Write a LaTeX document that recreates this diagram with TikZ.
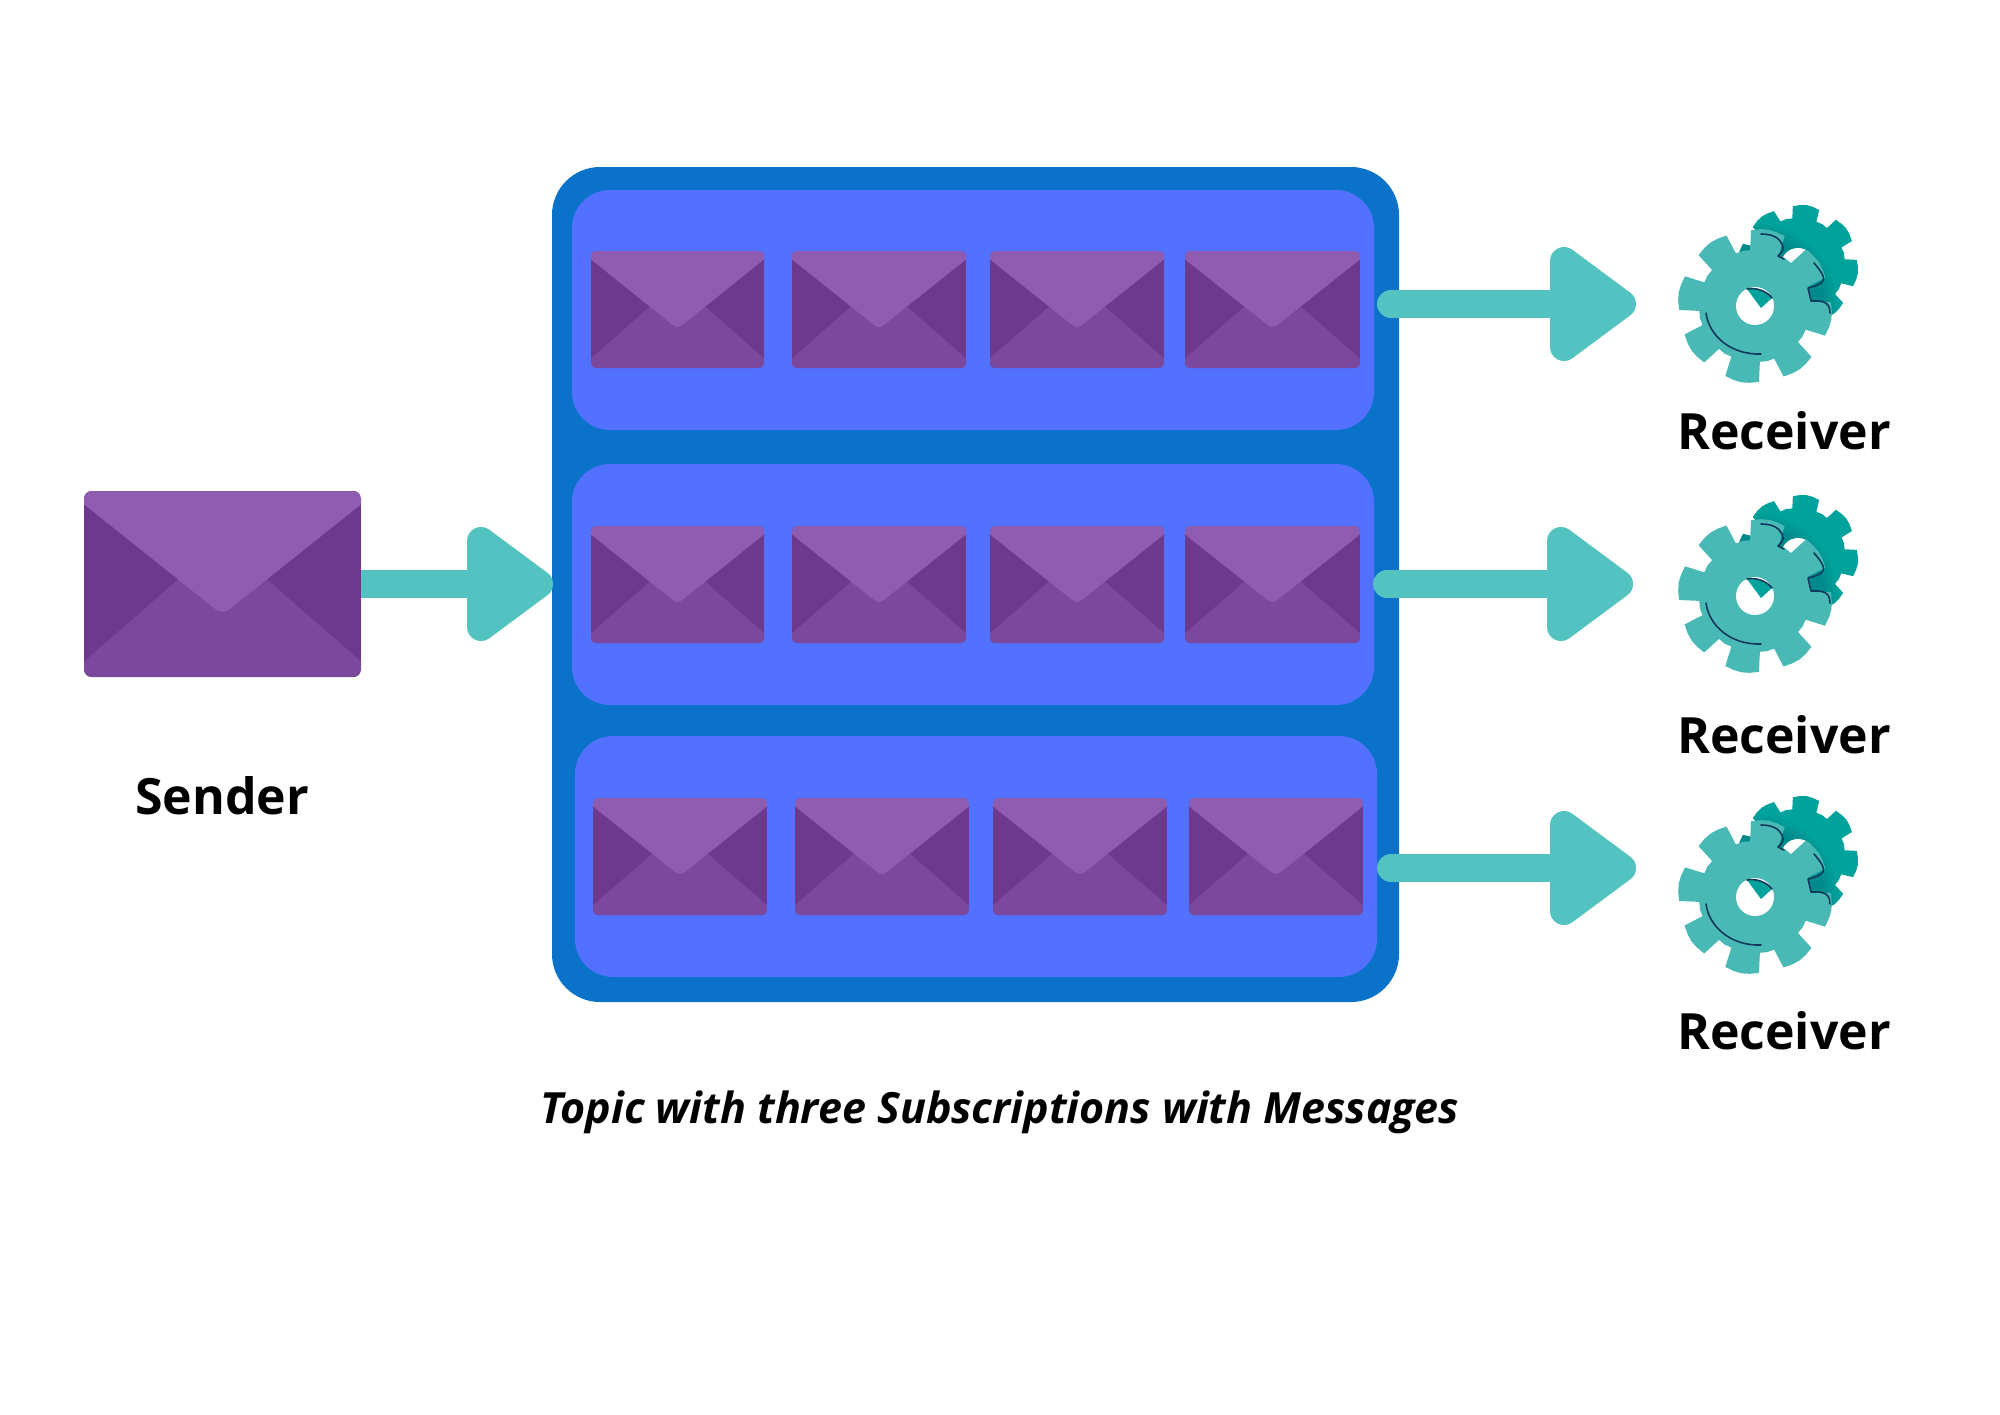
\documentclass[tikz,border=0pt]{standalone}
\usepackage{fontspec}
\setmainfont{Open Sans}
\definecolor{topicblue}{HTML}{0A72C9}
\definecolor{panelblue}{HTML}{5271FF}
\definecolor{flapA}{HTML}{8E5DB1}
\definecolor{sideA}{HTML}{6C3A8C}
\definecolor{baseA}{HTML}{7A499E}
\definecolor{arrowteal}{HTML}{52C3C0}
\definecolor{gearfront}{HTML}{48B9B4}
\definecolor{gearback}{HTML}{00A39B}
\definecolor{gearline}{HTML}{113A5C}
\newcommand{\envelope}[4]{% x y w h
  \begin{scope}[shift={(#1,#2)},x=#3pt,y=-#4pt]
    \begin{scope}
      \clip[rounded corners=#3*0.028pt] (0,0) rectangle (1,1);
      \fill[sideA] (0,0) rectangle (1,1);
      \fill[baseA] (-0.01,0.93) -- (0.34,0.475) -- (0.66,0.475) -- (1.01,0.93) -- (1.01,1.01) -- (-0.01,1.01) -- cycle;
      \fill[flapA] (-0.01,-0.01) -- (1.01,-0.01) -- (1.01,0.06) -- (0.53,0.63) .. controls (0.51,0.655) and (0.49,0.655) .. (0.47,0.63) -- (-0.01,0.06) -- cycle;
    \end{scope}
  \end{scope}}
\newcommand{\gearpath}[6]{% cx cy rbody rtip base-angle path-action
  \path[#6] ({#1+#3*cos(#5-15)},{#2-#3*sin(#5-15)})
  \foreach \k in {0,45,...,315} {
     \pgfextra{\pgfmathsetmacro{\a}{#5+\k}}
     -- ({#1+#3*cos(\a-15)},{#2-#3*sin(\a-15)})
     -- ({#1+#4*cos(\a-13)},{#2-#4*sin(\a-13)})
     -- ({#1+(#4+1)*cos(\a-6)},{#2-(#4+1)*sin(\a-6)})
     -- ({#1+(#4+1.5)*cos(\a)},{#2-(#4+1.5)*sin(\a)})
     -- ({#1+(#4+1)*cos(\a+6)},{#2-(#4+1)*sin(\a+6)})
     -- ({#1+#4*cos(\a+13)},{#2-#4*sin(\a+13)})
     -- ({#1+#3*cos(\a+15)},{#2-#3*sin(\a+15)})
     -- ({#1+#3*cos(\a+18)},{#2-#3*sin(\a+18)})
     -- ({#1+(#3+0.5)*cos(\a+22.5)},{#2-(#3+0.5)*sin(\a+22.5)})
     -- ({#1+#3*cos(\a+27)},{#2-#3*sin(\a+27)})
  } -- cycle;}
\newcommand{\gears}[2]{% cx cy of the front gear
  \gearpath{#1+43}{#2-41}{47}{59}{82}{fill=gearback}
  \begin{scope}
    \gearpath{#1+43}{#2-41}{47}{59}{82}{clip}
    \foreach \r in {70,74,78,82} {
      \fill[gearline,opacity=0.06] (#1,#2) circle (\r pt);
    }
  \end{scope}
  \fill[white] ({#1+43},{#2-41}) circle (17pt);
  \gearpath{#1}{#2}{56}{76}{35}{fill=gearfront}
  \fill[white] (#1,#2) circle (19pt);
  \begin{scope}[shift={(#1,#2)}]
    \fill[gearback] (-8,-17) .. controls (0,-19) and (12,-15) .. (17,-8) -- (6,2) -- cycle;
    \draw[gearstroke] (-8,-17) .. controls (0,-19) and (12,-15) .. (17,-8);
    \draw[gearstroke] (-49,7) .. controls (-46,30) and (-24,49) .. (6,48);
    \draw[gearstroke] (6,-72) .. controls (18,-72) and (24,-68) .. (27,-62) .. controls (30,-56) and (26,-53) .. (23,-50) -- (29,-47);
    \draw[gearstroke] (59,-43) .. controls (66,-35) and (72,-27) .. (66,-23) .. controls (62,-20) and (57,-19) .. (53,-18) -- (56,-5) .. controls (65,-5) and (75,-6) .. (75,7);
  \end{scope}}
\newcommand{\arrowhead}[2]{% x of the head's back, y of the centre
  \filldraw[arrowteal,line width=28pt,line join=round] (#1+14,#2-43) -- (#1+72,#2) -- (#1+14,#2+43) -- cycle;}
\tikzset{
  shaft/.style={draw=arrowteal,line width=28pt},
  gearstroke/.style={draw=gearline,line width=1.6pt,line cap=round,line join=round},
  lbl/.style={font=\bfseries\fontsize{50}{54}\selectfont,text=black,inner sep=0pt},
  captext/.style={font=\bfseries\itshape\fontsize{43}{48}\selectfont,text=black,inner sep=0pt},
  topicbox/.style={fill=topicblue,rounded corners=48pt},
  panelbox/.style={fill=panelblue,rounded corners=38pt},
}
\begin{document}
\begin{tikzpicture}[x=1pt,y=-1pt]
\useasboundingbox (0,0) rectangle (2000,1414);
\fill[white] (0,0) rectangle (2000,1414);
\fill[topicbox] (552,167) rectangle (1399,1002);
\fill[panelbox] (572,190) rectangle (1374,430);
\fill[panelbox] (572,464) rectangle (1374,705);
\fill[panelbox] (575,736) rectangle (1377,977);
\foreach \x/\w in {591/173,792/174,990/174,1185/175} {
  \envelope{\x}{251}{\w}{117}
  \envelope{\x}{526}{\w}{117}
}
\foreach \x/\w in {593/174,795/174,993/174,1189/174} {
  \envelope{\x}{798}{\w}{117}
}
\envelope{84}{491}{277}{186}
% connectors
\coordinate (sendR) at (361,584);
\coordinate (headS) at (470,584);
\draw[shaft] (sendR) -- (headS);
\arrowhead{467}{584}
\coordinate (r1a) at (1391,304);
\coordinate (r1b) at (1555,304);
\draw[shaft,line cap=round] (r1a) -- (r1b);
\arrowhead{1550}{304}
\coordinate (r2a) at (1387,584);
\coordinate (r2b) at (1551,584);
\draw[shaft,line cap=round] (r2a) -- (r2b);
\arrowhead{1547}{584}
\coordinate (r3a) at (1391,868);
\coordinate (r3b) at (1555,868);
\draw[shaft,line cap=round] (r3a) -- (r3b);
\arrowhead{1550}{868}
\gears{1755}{306}
\gears{1755}{596}
\gears{1755}{897}
\node[lbl] (sender) at (222,796) {Sender};
\node[lbl] (rc1) at (1784,431) {Receiver};
\node[lbl] (rc2) at (1784,735) {Receiver};
\node[lbl] (rc3) at (1784,1031) {Receiver};
\node[captext] (caption) at (1000,1112) {Topic with three Subscriptions with Messages};
\end{tikzpicture}
\end{document}
